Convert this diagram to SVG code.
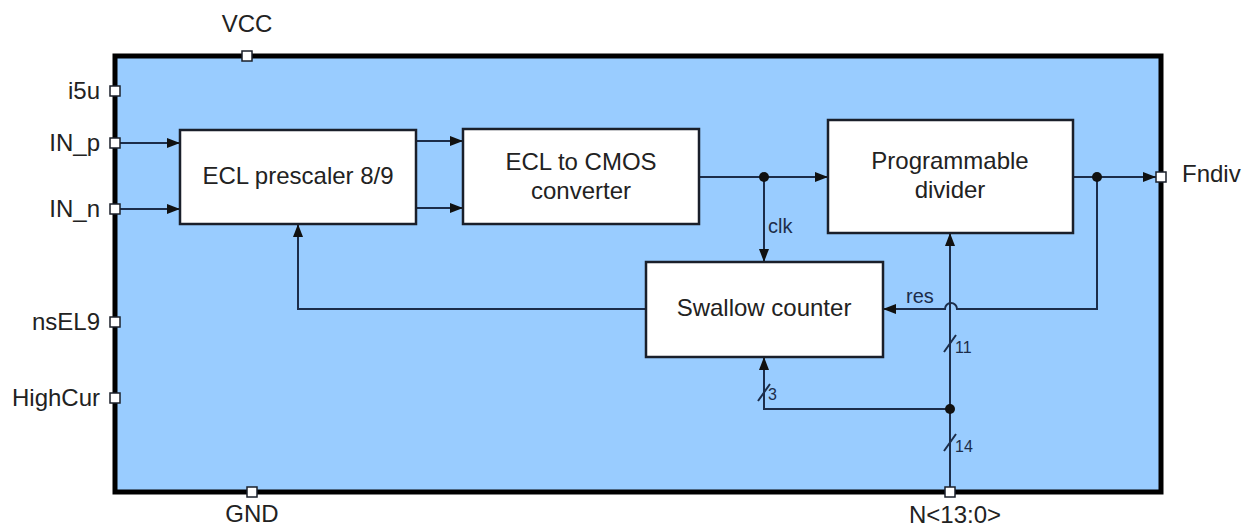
<svg xmlns="http://www.w3.org/2000/svg" width="1257" height="527" viewBox="0 0 1257 527">
<style>
text{font-family:"Liberation Sans",Arial,sans-serif;fill:#222}
.big{font-size:24px}
.mid{font-size:20px;fill:#1c2d4a}
.sm{font-size:16px;fill:#1c2d4a}
.blk{fill:#fff;stroke:#1a1f2a;stroke-width:2.5}
.port{fill:#fff;stroke:#1a1f2a;stroke-width:1.5}
.w{fill:none;stroke:#1c2d4a;stroke-width:2}
.dot{fill:#111}
</style>
<defs>
<marker id="ah" markerUnits="userSpaceOnUse" markerWidth="14" markerHeight="12" refX="13" refY="5" orient="auto">
<path d="M0,0 L13,5 L0,10 z" fill="#111"/>
</marker>
</defs>
<rect width="1257" height="527" fill="#fff"/>
<g id="chip">
<rect x="115" y="56" width="1046" height="436" fill="#99ccff" stroke="#000" stroke-width="5"/>
</g>
<g id="connectors">
<path class="w" d="M115,143 H180" marker-end="url(#ah)"/>
<path class="w" d="M115,209 H180" marker-end="url(#ah)"/>
<path class="w" d="M416,141 H463" marker-end="url(#ah)"/>
<path class="w" d="M416,208 H463" marker-end="url(#ah)"/>
<path class="w" d="M699,177 H828" marker-end="url(#ah)"/>
<path class="w" d="M764,177 V262" marker-end="url(#ah)"/>
<path class="w" d="M1073,177 H1156" marker-end="url(#ah)"/>
<path class="w" d="M1097,177 V309 H957 A6,6 0 0 0 945,309 H883" marker-end="url(#ah)"/>
<path class="w" d="M646,309 H298 V224" marker-end="url(#ah)"/>
<path class="w" d="M950,492 V233" marker-end="url(#ah)"/>
<path class="w" d="M950,409 H764 V357" marker-end="url(#ah)"/>
<path class="w" d="M944,352 L956,335 M944,451 L956,434 M758,401 L770,384"/>
<circle class="dot" cx="764" cy="177" r="5"/>
<circle class="dot" cx="1097" cy="177" r="5"/>
<circle class="dot" cx="950" cy="409" r="5"/>
<text class="mid" x="768" y="233">clk</text>
<text class="mid" x="906" y="303">res</text>
<text class="sm" x="955" y="353">11</text>
<text class="sm" x="955" y="452">14</text>
<text class="sm" x="768" y="400">3</text>
</g>
<g id="prescaler">
<rect class="blk" x="180" y="130" width="236" height="94"/>
<text class="big" x="298" y="184" text-anchor="middle">ECL prescaler 8/9</text>
</g>
<g id="converter">
<rect class="blk" x="463" y="129" width="236" height="95"/>
<text class="big" x="581" y="170" text-anchor="middle">ECL to CMOS</text>
<text class="big" x="581" y="199" text-anchor="middle">converter</text>
</g>
<g id="progdiv">
<rect class="blk" x="828" y="120" width="245" height="113"/>
<text class="big" x="950" y="169" text-anchor="middle">Programmable</text>
<text class="big" x="950" y="198" text-anchor="middle">divider</text>
</g>
<g id="swallow">
<rect class="blk" x="646" y="262" width="237" height="95"/>
<text class="big" x="764" y="316" text-anchor="middle">Swallow counter</text>
</g>
<g id="ports">
<rect class="port" x="242" y="51" width="10" height="10"/>
<rect class="port" x="110" y="86" width="10" height="10"/>
<rect class="port" x="110" y="138" width="10" height="10"/>
<rect class="port" x="110" y="204" width="10" height="10"/>
<rect class="port" x="110" y="317" width="10" height="10"/>
<rect class="port" x="110" y="393" width="10" height="10"/>
<rect class="port" x="247" y="487" width="10" height="10"/>
<rect class="port" x="945" y="487" width="10" height="10"/>
<rect class="port" x="1156" y="172" width="10" height="10"/>
<text class="big" x="247" y="32" text-anchor="middle">VCC</text>
<text class="big" x="100" y="99" text-anchor="end">i5u</text>
<text class="big" x="100" y="151" text-anchor="end">IN_p</text>
<text class="big" x="100" y="217" text-anchor="end">IN_n</text>
<text class="big" x="100" y="330" text-anchor="end">nsEL9</text>
<text class="big" x="100" y="406" text-anchor="end">HighCur</text>
<text class="big" x="252" y="522" text-anchor="middle">GND</text>
<text class="big" x="955" y="523" text-anchor="middle">N&lt;13:0&gt;</text>
<text class="big" x="1182" y="182">Fndiv</text>
</g>
</svg>
